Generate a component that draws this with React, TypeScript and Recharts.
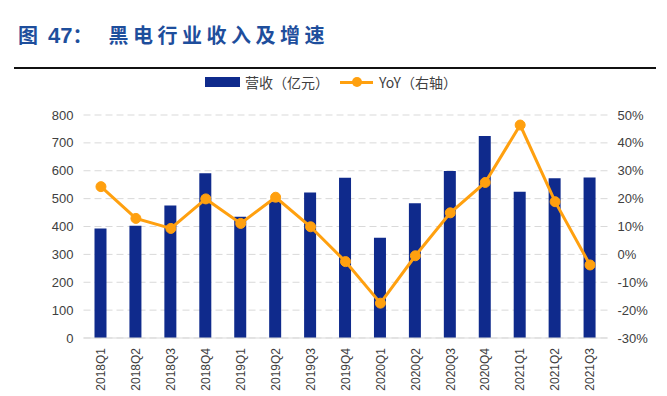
import { ComposedChart, Bar, Line, XAxis, YAxis, CartesianGrid } from 'recharts';

const quarters = [
  '2018Q1', '2018Q2', '2018Q3', '2018Q4',
  '2019Q1', '2019Q2', '2019Q3', '2019Q4',
  '2020Q1', '2020Q2', '2020Q3', '2020Q4',
  '2021Q1', '2021Q2', '2021Q3',
];

// 营收（亿元）
const revenue = [393, 403, 475, 591, 435, 490, 522, 575, 360, 483, 599, 725, 525, 573, 576];

// YoY，单位 %
const yoy = [24.3, 12.9, 9.3, 19.9, 11.1, 20.5, 9.9, -2.6, -17.5, -0.5, 14.9, 25.8, 46.4, 18.9, -3.8];

const leftTicks = [0, 100, 200, 300, 400, 500, 600, 700, 800];
const rightTicks = [-30, -20, -10, 0, 10, 20, 30, 40, 50];

const BAR_COLOR = '#0f2a8c';
const LINE_COLOR = '#ffa00f';
const TEXT_COLOR = '#404040';
const FONT = '"Liberation Sans", Arial, sans-serif';

const data = quarters.map((q, i) => ({ q, revenue: revenue[i], yoy: yoy[i] }));

function QuarterTick({ x, y, payload }: any) {
  return (
    <text
      transform={`translate(${x}, ${y + 2}) rotate(-90)`}
      textAnchor="end"
      dy="0.35em"
      fontSize={12}
      fill={TEXT_COLOR}
      fontFamily={FONT}
    >
      {payload.value}
    </text>
  );
}

export default function App() {
  return (
    <div
      style={{
        position: 'absolute',
        left: 0,
        top: 0,
        width: 667,
        height: 396,
        background: '#fff',
        overflow: 'hidden',
        fontFamily: FONT,
      }}
    >
      <div
        style={{
          position: 'absolute',
          left: 18,
          top: 21,
          fontSize: 20,
          fontWeight: 'bold',
          color: '#1e4e9c',
          fontFamily: '"Noto Sans CJK SC", sans-serif',
          whiteSpace: 'nowrap',
          lineHeight: '28px',
        }}
      >
        <span style={{ marginRight: 10 }}>图</span>
        <span style={{ fontFamily: FONT, fontSize: 22 }}>47</span>
        <span style={{ marginRight: 16 }}>：</span>
        <span style={{ letterSpacing: 4.5 }}>黑电行业收入及增速</span>
      </div>
      <div
        style={{
          position: 'absolute',
          left: 14,
          top: 67,
          width: 642,
          height: 2,
          background: '#111',
        }}
      />
      <div
        style={{
          position: 'absolute',
          left: 205,
          top: 73,
          height: 18,
          display: 'flex',
          alignItems: 'center',
          fontSize: 14,
          color: TEXT_COLOR,
          fontFamily: '"Noto Sans CJK SC", sans-serif',
          whiteSpace: 'nowrap',
        }}
      >
        <span style={{ width: 35, height: 10, background: BAR_COLOR, display: 'inline-block' }} />
        <span style={{ marginLeft: 5 }}>营收（亿元）</span>
        <span
          style={{
            marginLeft: 11,
            width: 33,
            height: 3,
            background: LINE_COLOR,
            display: 'inline-block',
            position: 'relative',
          }}
        >
          <span
            style={{
              position: 'absolute',
              left: 12,
              top: -3.5,
              width: 10,
              height: 10,
              borderRadius: 5,
              background: LINE_COLOR,
            }}
          />
        </span>
        <span style={{ marginLeft: 6 }}>YoY（右轴）</span>
      </div>
      <div style={{ position: 'absolute', left: 0, top: 0 }}>
        <ComposedChart
          width={667}
          height={396}
          data={data}
          margin={{ top: 115, right: 0, bottom: 0, left: 0 }}
          barCategoryGap="0%"
        >
          <CartesianGrid
            vertical={false}
            stroke="#d9d9d9"
            strokeDasharray="7 4"
            yAxisId="left"
          />
          <XAxis
            dataKey="q"
            height={58}
            tickLine={false}
            axisLine={{ stroke: '#d9d9d9', strokeWidth: 1 }}
            tick={<QuarterTick />}
            interval={0}
          />
          <YAxis
            yAxisId="left"
            orientation="left"
            width={83.5}
            domain={[0, 800]}
            ticks={leftTicks}
            axisLine={false}
            tickLine={false}
            tickSize={0}
            tickMargin={10}
            tick={{ fontSize: 13, fill: TEXT_COLOR, fontFamily: FONT }}
          />
          <YAxis
            yAxisId="right"
            orientation="right"
            width={59.5}
            domain={[-30, 50]}
            ticks={rightTicks}
            axisLine={false}
            tickLine={false}
            tickSize={0}
            tickMargin={10}
            tickFormatter={(v: number) => `${v}%`}
            tick={{ fontSize: 13, fill: TEXT_COLOR, fontFamily: FONT }}
          />
          <Bar
            yAxisId="left"
            dataKey="revenue"
            fill={BAR_COLOR}
            barSize={12}
            isAnimationActive={false}
          />
          <Line
            yAxisId="right"
            dataKey="yoy"
            stroke={LINE_COLOR}
            strokeWidth={3}
            dot={{ r: 5, fill: LINE_COLOR, stroke: LINE_COLOR, strokeWidth: 1 }}
            activeDot={false}
            isAnimationActive={false}
          />
        </ComposedChart>
      </div>
    </div>
  );
}
